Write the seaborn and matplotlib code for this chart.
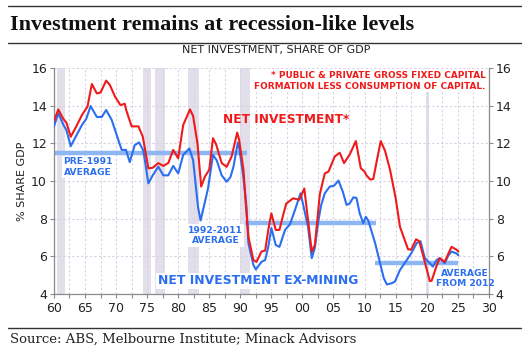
import numpy as np
import pandas as pd
import matplotlib
matplotlib.use("Agg")
import matplotlib.pyplot as plt
import seaborn as sns

# Net investment (public & private GFCF less consumption of capital), % of GDP
net_years = [1960.0, 1960.7, 1961.5, 1962.0, 1962.7, 1963.6, 1964.5, 1965.4, 1966.1, 1966.9,
             1967.5, 1968.4, 1969.0, 1969.8, 1970.7, 1971.4, 1971.6, 1972.5, 1973.6, 1974.3,
             1975.2, 1975.9, 1976.8, 1977.6, 1978.4, 1979.2, 1980.0, 1980.8, 1981.9, 1982.4,
             1983.1, 1983.7, 1984.3, 1985.0, 1985.6, 1986.1, 1987.0, 1987.8, 1988.6, 1989.5,
             1989.8, 1990.5, 1990.9, 1991.3, 1992.1, 1992.6, 1993.4, 1994.0, 1994.5, 1995.0,
             1995.7, 1996.3, 1996.9, 1997.4, 1998.5, 1999.5, 2000.3, 2000.9, 2001.5, 2002.0,
             2002.5, 2002.8, 2003.6, 2004.2, 2005.2, 2006.0, 2006.7, 2007.6, 2008.6, 2009.4,
             2010.0, 2010.3, 2010.9, 2011.4, 2011.9, 2012.6, 2013.3, 2014.1, 2015.0, 2015.7,
             2017.0, 2017.5, 2018.3, 2018.8, 2019.7, 2020.5, 2020.8, 2021.6, 2022.1, 2022.9,
             2023.5, 2024.0, 2024.8, 2025.1]
net_values = [13.2, 13.8, 13.3, 13.1, 12.35, 12.9, 13.5, 13.95, 15.15, 14.65,
              14.7, 15.33, 15.1, 14.5, 14.03, 14.1, 13.8, 12.9, 12.9, 12.35,
              10.67, 10.7, 10.95, 10.8, 10.95, 11.65, 11.2, 12.97, 13.8, 13.45,
              12.0, 9.7, 10.23, 10.6, 12.27, 11.95, 10.95, 10.75, 11.3, 12.57,
              12.2, 10.6, 8.7, 7.04, 5.8, 5.7, 6.25, 6.3, 7.4, 8.28,
              7.4, 7.4, 8.2, 8.8, 9.08, 9.0, 9.6, 7.93, 6.25, 6.6,
              8.28, 9.3, 10.4, 10.5, 11.3, 11.5, 10.95, 11.4, 12.12, 10.67,
              10.5, 10.3, 10.08, 10.1, 10.95, 12.12, 11.6, 10.6, 9.1, 7.57,
              6.37, 6.35, 6.9, 6.8, 5.7, 4.68, 4.7, 5.5, 5.9, 5.7,
              6.15, 6.5, 6.35, 6.25]

# Net investment ex-mining, % of GDP
exm_years = [1960.0, 1960.7, 1961.5, 1962.0, 1962.7, 1963.5, 1964.5, 1965.2, 1965.9, 1966.9,
             1967.7, 1968.4, 1969.3, 1970.1, 1970.9, 1971.6, 1972.2, 1973.0, 1973.7, 1974.4,
             1975.2, 1975.9, 1976.8, 1977.6, 1978.4, 1979.2, 1980.0, 1980.8, 1981.8, 1982.4,
             1983.2, 1983.6, 1984.1, 1984.8, 1985.6, 1986.2, 1987.0, 1987.8, 1988.4, 1988.9,
             1989.6, 1989.8, 1990.5, 1991.0, 1991.3, 1992.1, 1992.5, 1993.4, 1994.0, 1994.5,
             1995.0, 1995.7, 1996.3, 1997.2, 1998.0, 1998.8, 1999.7, 2000.9, 2001.5, 2002.0,
             2002.5, 2003.0, 2003.6, 2004.4, 2005.1, 2005.8, 2006.5, 2007.1, 2007.6, 2008.2,
             2008.7, 2009.2, 2009.8, 2010.2, 2010.6, 2011.7, 2012.5, 2013.1, 2013.6, 2014.4,
             2014.9, 2015.7, 2016.8, 2017.5, 2018.4, 2019.0, 2019.7, 2020.5, 2021.0, 2021.6,
             2022.1, 2022.9, 2023.5, 2024.0, 2024.8, 2025.1]
exm_values = [12.9, 13.6, 13.0, 12.7, 11.85, 12.35, 12.97, 13.3, 13.98, 13.4,
              13.4, 13.77, 13.24, 12.44, 11.65, 11.65, 11.0, 11.9, 12.05, 11.6,
              9.87, 10.3, 10.76, 10.3, 10.3, 10.8, 10.4, 11.38, 11.73, 11.1,
              8.6, 7.9, 8.6, 9.6, 11.38, 11.1, 10.3, 9.96, 10.2, 10.76,
              12.04, 11.8, 10.2, 8.6, 6.7, 5.54, 5.3, 5.7, 5.8, 6.5,
              7.5, 6.6, 6.5, 7.4, 7.7, 8.46, 9.35, 7.57, 5.9, 6.45,
              7.75, 8.7, 9.35, 9.7, 9.75, 10.02, 9.43, 8.73, 8.8, 9.13,
              9.1, 8.3, 7.75, 8.1, 7.9, 6.7, 5.63, 4.83, 4.5, 4.57,
              4.66, 5.27, 5.8, 6.15, 6.7, 6.8, 5.9, 5.63, 5.45, 5.8,
              5.9, 5.63, 6.05, 6.25, 6.15, 6.05]

# period averages of the ex-mining series: (start, end, level)
avg_starts = [1960.0, 1990.8, 2011.7]
avg_ends = [1991.0, 2011.9, 2025.0]
avg_levels = [11.5, 7.75, 5.63]

# recessions / downturn shading
rec_starts = [1960.5, 1974.3, 1976.2, 1981.6, 1990.0, 2019.9]
rec_ends = [1961.8, 1975.6, 1977.9, 1983.4, 1991.6, 2020.4]

x_ticks = list(range(1960, 2031, 5))
x_labels = ["60", "65", "70", "75", "80", "85", "90", "95", "00", "05", "10", "15", "20", "25", "30"]
y_ticks = [4, 6, 8, 10, 12, 14, 16]

RED = "#f01a1a"
BLUE = "#2b6ff0"
AVG_BLUE = "#8db6f2"
GRID = "#d8d2e4"
SHADE = "#e3dfea"

sns.set_theme(style="white")
plt.rcParams["font.family"] = ["DejaVu Sans"]

fig = plt.figure(figsize=(5.29, 3.58), dpi=100)
ax = fig.add_axes([0.102, 0.179, 0.822, 0.631])

df = pd.concat([
    pd.DataFrame({"year": net_years, "value": net_values, "series": "net"}),
    pd.DataFrame({"year": exm_years, "value": exm_values, "series": "exm"}),
])

for s, e in zip(rec_starts, rec_ends):
    ax.axvspan(s, e, color=SHADE, lw=0, zorder=0)

for s, e, v in zip(avg_starts, avg_ends, avg_levels):
    ax.plot([s, e], [v, v], color=AVG_BLUE, lw=3.2, solid_capstyle="butt", zorder=2)

sns.lineplot(data=df, x="year", y="value", hue="series", hue_order=["exm", "net"],
             palette={"net": RED, "exm": BLUE}, linewidth=1.5, legend=False, ax=ax,
             sort=False, estimator=None, zorder=3)

ax.set_xlim(1960, 2030)
ax.set_ylim(4, 16)
ax.set_xticks(x_ticks)
ax.set_xticklabels(x_labels)
ax.set_xticks(np.arange(1962.5, 2030, 5), minor=True)
ax.set_yticks(y_ticks)

ax.grid(True, which="both", axis="x", color=GRID, lw=0.8, ls=(0, (2, 2)))
ax.grid(True, which="major", axis="y", color=GRID, lw=0.8, ls=(0, (2, 2)))
ax.set_axisbelow(True)

for side in ["left", "right", "bottom"]:
    ax.spines[side].set_color("#8a8a8a")
    ax.spines[side].set_linewidth(0.9)
ax.spines["top"].set_visible(False)

ax.tick_params(axis="both", which="both", direction="out", length=3, width=0.8,
               color="#8a8a8a", labelsize=9, labelcolor="#222222")
ax.tick_params(axis="y", left=True, right=True, labelleft=True, labelright=True, pad=2)
ax.tick_params(axis="x", bottom=True, pad=3)
ax.tick_params(axis="x", which="minor", bottom=True, length=3)

ax.set_xlabel("")
ax.set_ylabel("% SHARE GDP", fontsize=8, color="#222222", labelpad=3)

# annotations
ax.text(1997.4, 13.25, "NET INVESTMENT*", color=RED, fontsize=8.7, fontweight="bold",
        ha="center", va="center", zorder=4)
ax.text(2030 - 0.5, 15.85, "* PUBLIC & PRIVATE GROSS FIXED CAPITAL\nFORMATION LESS CONSUMPTION OF CAPITAL.",
        color=RED, fontsize=6.4, fontweight="bold", ha="right", va="top", linespacing=1.3,
        bbox=dict(facecolor="white", edgecolor="none", pad=1), zorder=4)
ax.text(1965.5, 10.75, "PRE-1991\nAVERAGE", color=BLUE, fontsize=6.6, fontweight="bold",
        ha="center", va="center", linespacing=1.2,
        bbox=dict(facecolor="white", edgecolor="none", pad=1), zorder=4)
ax.text(1986.0, 7.1, "1992-2011\nAVERAGE", color=BLUE, fontsize=6.6, fontweight="bold",
        ha="center", va="center", linespacing=1.2,
        bbox=dict(facecolor="white", edgecolor="none", pad=1), zorder=4)
ax.text(1992.8, 4.69, "NET INVESTMENT EX-MINING", color=BLUE, fontsize=8.9, fontweight="bold",
        ha="center", va="center", zorder=4,
        bbox=dict(facecolor="white", edgecolor="none", pad=1))
ax.text(2026.2, 4.83, "AVERAGE\nFROM 2012", color=BLUE, fontsize=6.6, fontweight="bold",
        ha="center", va="center", linespacing=1.1, clip_on=False, zorder=4)

# header / footer
fig.text(0.522, 0.86, "NET INVESTMENT, SHARE OF GDP", ha="center", va="center",
         fontsize=8, color="#222222")
fig.text(0.019, 0.93, "Investment remains at recession-like levels", ha="left", va="center",
         fontsize=16, fontweight="bold", family=["Liberation Serif"], color="#111111")
fig.text(0.019, 0.053, "Source: ABS, Melbourne Institute; Minack Advisors", ha="left", va="center",
         fontsize=9.5, family=["DejaVu Serif"], color="#222222")
for yy in [0.983, 0.88, 0.085]:
    fig.add_artist(plt.Line2D([0.015, 0.985], [yy, yy], color="#333333", lw=1.0,
                              transform=fig.transFigure))

fig.savefig("out.png", dpi=100)
